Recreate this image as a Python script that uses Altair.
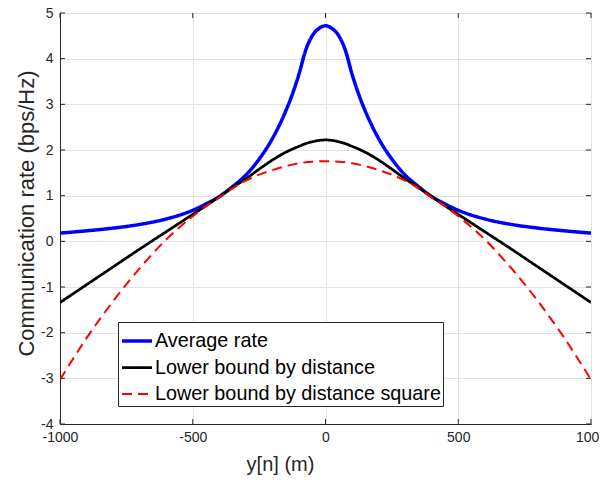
import altair as alt
import pandas as pd

# ---- data ----
x_m = [-1000, -900, -800, -700, -600, -500, -450, -400, -350, -300, -250, -200, -175, -150, -125, -100, -75, -50, -25, 0,
       25, 50, 75, 100, 125, 150, 175, 200, 250, 300, 350, 400, 450, 500, 600, 700, 800, 900, 1000]

average_rate = [0.18, 0.23, 0.29, 0.37, 0.49, 0.68, 0.82, 0.98, 1.20, 1.45, 1.80, 2.25, 2.53, 2.85, 3.22, 3.66, 4.18, 4.50, 4.66, 4.72,
                4.66, 4.50, 4.18, 3.66, 3.22, 2.85, 2.53, 2.25, 1.80, 1.45, 1.20, 0.98, 0.82, 0.68, 0.49, 0.37, 0.29, 0.23, 0.18]

lb_distance = [-1.34, -0.95, -0.56, -0.17, 0.21, 0.59, 0.78, 0.98, 1.18, 1.37, 1.58, 1.78, 1.87, 1.95, 2.02, 2.08, 2.14, 2.18, 2.21, 2.22,
               2.21, 2.18, 2.14, 2.08, 2.02, 1.95, 1.87, 1.78, 1.58, 1.37, 1.18, 0.98, 0.78, 0.59, 0.21, -0.17, -0.56, -0.95, -1.34]

lb_distance_sq = [-3.03, -2.12, -1.31, -0.59, 0.04, 0.55, 0.77, 0.96, 1.16, 1.33, 1.46, 1.56, 1.605, 1.645, 1.68, 1.71, 1.73, 1.745, 1.752, 1.755,
                  1.752, 1.745, 1.73, 1.71, 1.68, 1.645, 1.605, 1.56, 1.46, 1.33, 1.16, 0.96, 0.77, 0.55, 0.04, -0.59, -1.31, -2.12, -3.03]

series_names = ["Average rate", "Lower bound by distance", "Lower bound by distance square"]
series_colors = ["#0000ff", "#000000", "#ff0000"]
series_dash = [[1, 0], [1, 0], [10, 6]]
series_width = [3.5, 2, 2]

x_ticks = [-1000, -500, 0, 500, 1000]
y_ticks = [-4, -3, -2, -1, 0, 1, 2, 3, 4, 5]

rows = []
for name, vals in zip(series_names, [average_rate, lb_distance, lb_distance_sq]):
    for xv, yv in zip(x_m, vals):
        rows.append({"x": xv, "rate": yv, "series": name})
df = pd.DataFrame(rows)

W, H = 531, 411
TOP = 5
FONT = "Liberation Sans"
DARK = "#262626"

xscale = alt.Scale(domain=[-1000, 1000], nice=False, zero=False)
yscale = alt.Scale(domain=[-4, 5], nice=False, zero=False)

x_axis = alt.Axis(values=x_ticks, title="y[n] (m)", grid=True, ticks=False, tickSize=0,
                  labelExpr="datum.value + ''",
                  labelPadding=6, labelFlush=False, labelOverlap=False,
                  titleX=220, titleY=46, titleBaseline="alphabetic", titleAlign="center",
                  titleFontSize=20)
y_axis = alt.Axis(values=y_ticks, title="Communication rate (bps/Hz)", grid=True, ticks=False,
                  tickSize=0, labelPadding=7, labelOverlap=False, labelFlush=False,
                  labelExpr="datum.value + ''",
                  titleX=-27, titleY=200, titleBaseline="alphabetic", titleAlign="center",
                  titleAngle=270, titleFontSize=22)

legend_kw = dict(
    title=None, orient="none", legendX=58, legendY=309,
    fillColor="white", strokeColor=DARK, padding=2,
    symbolType="stroke", symbolSize=900, labelFont=FONT, labelFontSize=19.8,
    labelColor="black", rowPadding=0, labelOffset=1, labelLimit=400,
)

lines = alt.Chart(df).mark_line(interpolate="monotone", clip=True).encode(
    x=alt.X("x:Q", scale=xscale, axis=x_axis),
    y=alt.Y("rate:Q", scale=yscale, axis=y_axis),
    color=alt.Color("series:N", scale=alt.Scale(domain=series_names, range=series_colors),
                    legend=alt.Legend(**legend_kw)),
    strokeDash=alt.StrokeDash("series:N", scale=alt.Scale(domain=series_names, range=series_dash),
                              legend=alt.Legend(**legend_kw)),
    strokeWidth=alt.StrokeWidth("series:N", scale=alt.Scale(domain=series_names, range=series_width),
                                legend=alt.Legend(**legend_kw)),
)

xt = pd.DataFrame({"t": x_ticks})
yt = pd.DataFrame({"t": y_ticks})
tick_style = dict(color=DARK, strokeWidth=1)

x_bottom = alt.Chart(xt).mark_rule(**tick_style).encode(
    x=alt.X("t:Q", scale=xscale, axis=x_axis), y=alt.value(H), y2=alt.value(H - 5))
x_top = alt.Chart(xt).mark_rule(**tick_style).encode(
    x=alt.X("t:Q", scale=xscale, axis=x_axis), y=alt.value(0), y2=alt.value(5))
y_left = alt.Chart(yt).mark_rule(**tick_style).encode(
    y=alt.Y("t:Q", scale=yscale, axis=y_axis), x=alt.value(0), x2=alt.value(5))
y_right = alt.Chart(yt).mark_rule(**tick_style).encode(
    y=alt.Y("t:Q", scale=yscale, axis=y_axis), x=alt.value(W), x2=alt.value(W - 5))

chart = alt.layer(lines, x_bottom, x_top, y_left, y_right).properties(
    width=W, height=H,
    autosize=alt.AutoSizeParams(type="none"),
    padding={"left": 52, "top": TOP, "right": 8, "bottom": 53},
).configure_view(
    stroke=DARK, strokeWidth=1
).configure_axis(
    domainColor=DARK, gridColor="#e2e2e2", gridWidth=1,
    labelFont=FONT, labelFontSize=14, labelColor=DARK,
    titleFont=FONT, titleColor=DARK, titleFontWeight="normal",
)

chart.save("out.html", embed_options={"renderer": "svg", "actions": False})
